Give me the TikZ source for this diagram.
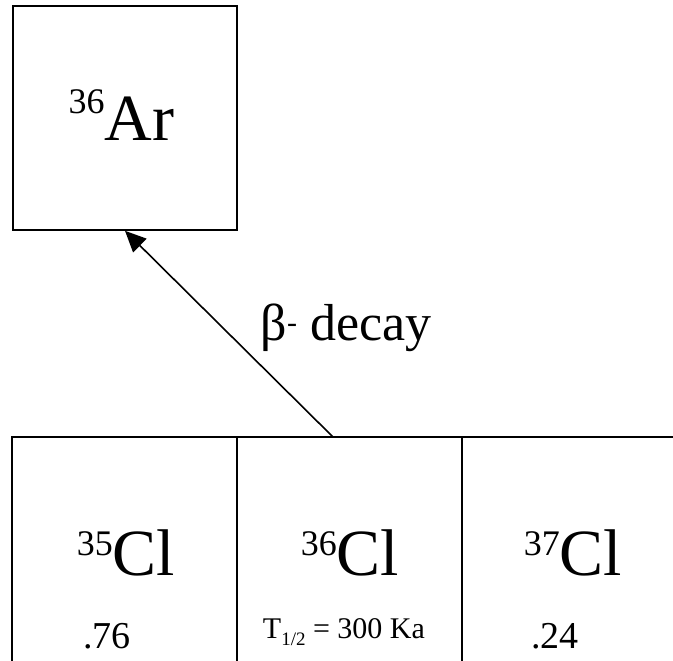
\documentclass[tikz,border=0pt]{standalone}
\usepackage{fontspec}
\setmainfont{Liberation Serif}
\usetikzlibrary{arrows.meta,positioning}
\newcommand{\nuc}[3]{\raisebox{#1}{\fontsize{36}{36}\selectfont #2}#3}

\begin{document}
\begin{tikzpicture}[x=1pt,y=-1pt,>={Triangle[length=21pt,width=19pt]},line width=1.6pt]
  \tikzstyle{cell}=[draw,minimum width=225pt,minimum height=300pt,inner sep=0pt,outer sep=0pt]
  \tikzstyle{big}=[font=\fontsize{66}{70}\selectfont,anchor=base,inner sep=0pt]
  \tikzstyle{small}=[font=\fontsize{38}{40}\selectfont,anchor=base,inner sep=0pt]
  \useasboundingbox (0,0) rectangle (673,661);
  \clip (0,0) rectangle (673,661);
  \node[draw,minimum size=224pt,inner sep=0pt] (ar) at (125,118) {};
  \node[big] (arlab) at (121.5,140) {\nuc{27pt}{36}{Ar}};
  \node[cell,anchor=north] (cl35) at (124.5,437) {};
  \node[cell,right=0pt of cl35] (cl36) {};
  \node[cell,right=0pt of cl36] (cl37) {};
  \node[big] (lab35) at (126,575) {\nuc{20pt}{35}{Cl}};
  \node[big] (lab36) at (350,575) {\nuc{20pt}{36}{Cl}};
  \node[big] (lab37) at (573,575) {\nuc{20pt}{37}{Cl}};
  \node[small] (ab35) at (107,648) {.76};
  \node[font=\fontsize{30}{32}\selectfont,anchor=base,inner sep=0pt] (half) at (344,638)
    {T\raisebox{-7pt}{\fontsize{19}{19}\selectfont 1/2} = 300 Ka};
  \node[small] (ab37) at (555,648) {.24};
  \draw[->] ([xshift=-16.5pt]cl36.north) -- (ar.south);
  \node[font=\fontsize{52}{56}\selectfont,anchor=base,inner sep=0pt] (decay) at (346,340)
    {β\raisebox{8pt}{\fontsize{30}{30}\selectfont -} decay};
\end{tikzpicture}
\end{document}
